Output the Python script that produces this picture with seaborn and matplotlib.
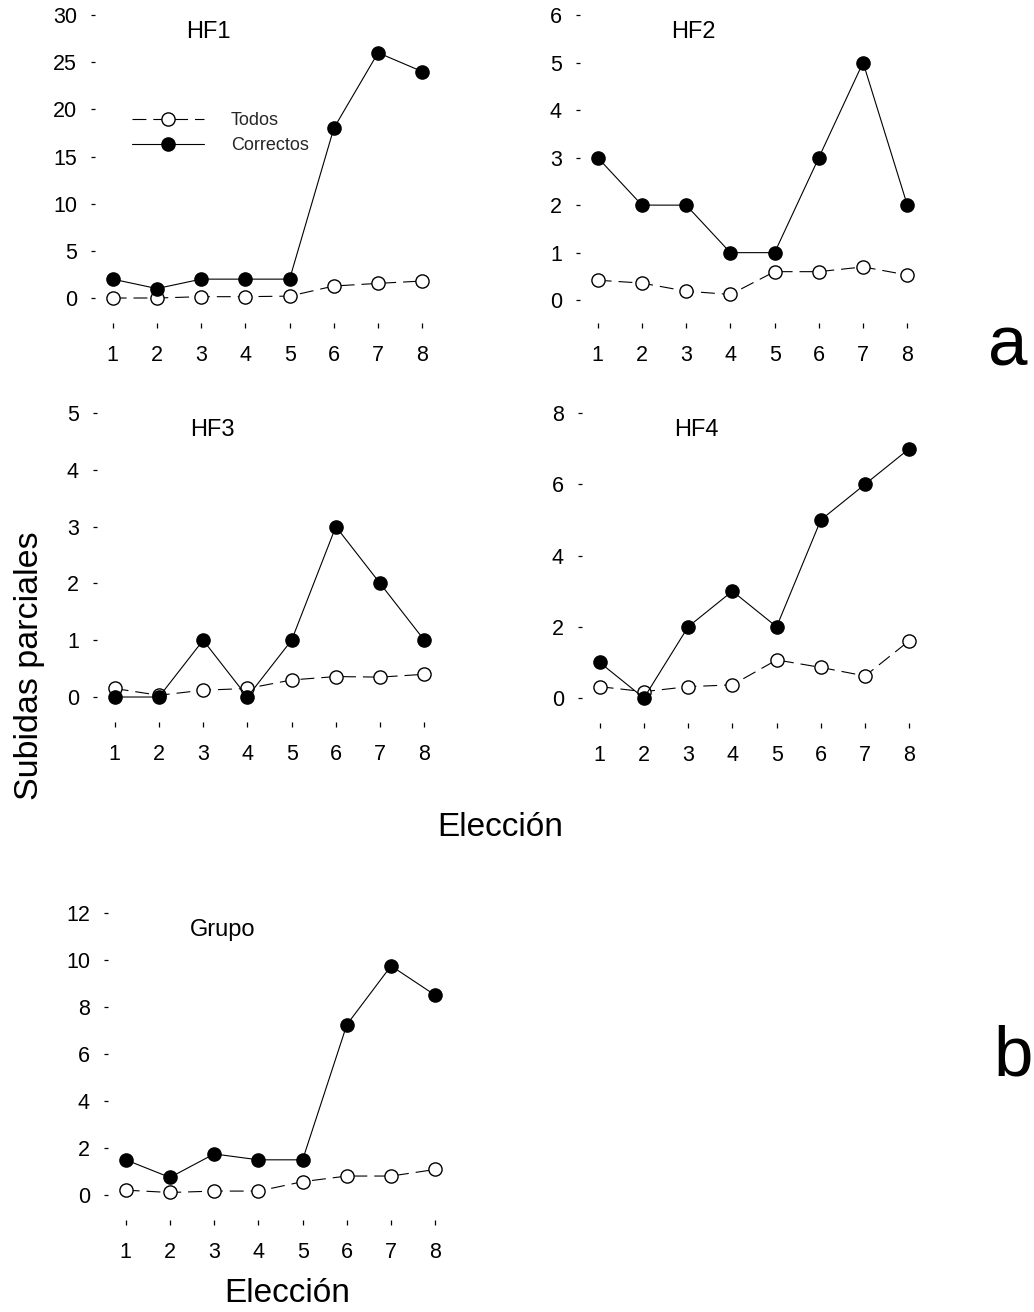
import matplotlib
matplotlib.use("Agg")
import matplotlib.pyplot as plt
import seaborn as sns
import pandas as pd

# Choice number (x axis)
elecciones = [1, 2, 3, 4, 5, 6, 7, 8]

# Partial rises per choice: all trials ("Todos") and correct trials ("Correctos")
hf1_todos = [0.0, 0.0, 0.14, 0.14, 0.2, 1.27, 1.55, 1.8]
hf1_correctos = [2, 1, 2, 2, 2, 18, 26, 24]

hf2_todos = [0.42, 0.36, 0.19, 0.12, 0.6, 0.6, 0.7, 0.53]
hf2_correctos = [3, 2, 2, 1, 1, 3, 5, 2]

hf3_todos = [0.15, 0.03, 0.12, 0.15, 0.3, 0.36, 0.35, 0.4]
hf3_correctos = [0, 0, 1, 0, 1, 3, 2, 1]

hf4_todos = [0.32, 0.18, 0.32, 0.37, 1.07, 0.86, 0.62, 1.61]
hf4_correctos = [1, 0, 2, 3, 2, 5, 6, 7]

grupo_todos = [0.21, 0.11, 0.17, 0.17, 0.57, 0.81, 0.81, 1.09]
grupo_correctos = [1.5, 0.75, 1.75, 1.5, 1.5, 7.25, 9.75, 8.5]

paneles = ["HF1", "HF2", "HF3", "HF4", "Grupo"]
y_ticks = {
    "HF1": [0, 5, 10, 15, 20, 25, 30],
    "HF2": [0, 1, 2, 3, 4, 5, 6],
    "HF3": [0, 1, 2, 3, 4, 5],
    "HF4": [0, 2, 4, 6, 8],
    "Grupo": [0, 2, 4, 6, 8, 10, 12],
}
series = {
    "HF1": (hf1_todos, hf1_correctos),
    "HF2": (hf2_todos, hf2_correctos),
    "HF3": (hf3_todos, hf3_correctos),
    "HF4": (hf4_todos, hf4_correctos),
    "Grupo": (grupo_todos, grupo_correctos),
}

sns.set_theme(style="white")
plt.rcParams["font.family"] = ["Liberation Sans", "DejaVu Sans"]
plt.rcParams["lines.scale_dashes"] = False

W, H = 1034, 1312
fig = plt.figure(figsize=(W / 100, H / 100), dpi=100)
fig.patch.set_facecolor("white")

# axes boxes in pixels: left, top, bottom ; y-limit bottoms
layout = {
    "HF1": (95, 15, 323, -2.65),
    "HF2": (580, 15, 323, -0.48),
    "HF3": (97, 413, 722, -0.44),
    "HF4": (582, 413, 723, -0.70),
    "Grupo": (108, 913, 1220, -1.06),
}
ax_w = 345

for name in paneles:
    left, top, bottom, ybot = layout[name]
    ax = fig.add_axes([left / W, (H - bottom) / H, ax_w / W, (bottom - top) / H])
    todos, correctos = series[name]
    df = pd.DataFrame({"Elección": elecciones, "Todos": todos, "Correctos": correctos})

    sns.lineplot(data=df, x="Elección", y="Todos", ax=ax, color="black",
                 linewidth=0.8, linestyle=(0, (10, 5)), marker="o", markersize=9.5,
                 markerfacecolor="white", markeredgecolor="black",
                 markeredgewidth=1.0, label="Todos", zorder=2)
    sns.lineplot(data=df, x="Elección", y="Correctos", ax=ax, color="black",
                 linewidth=0.8, marker="o", markersize=9.5,
                 markerfacecolor="black", markeredgecolor="black",
                 markeredgewidth=1.0, label="Correctos", zorder=3)

    yt = y_ticks[name]
    ax.set_xlim(0.6, 8.4)
    ax.set_ylim(ybot, yt[-1])
    ax.set_xticks(elecciones)
    ax.set_yticks(yt)
    ax.set_xlabel("")
    ax.set_ylabel("")
    for s in ax.spines.values():
        s.set_visible(False)
    ax.tick_params(axis="y", direction="out", length=3, width=0.9, pad=10,
                   labelsize=15.5, colors="black", left=True)
    ax.tick_params(axis="x", direction="out", length=3.5, width=0.9, pad=12,
                   labelsize=15.5, colors="black", bottom=True)
    ax.set_facecolor("white")
    ax.grid(False)

    title_x = {"HF1": 0.329, "HF2": 0.328, "HF3": 0.335, "HF4": 0.332, "Grupo": 0.332}[name]
    ax.text(title_x, 1 - 17 / (bottom - top), name, transform=ax.transAxes,
            ha="center", va="center", fontsize=17, color="black")

    if name == "HF1":
        ax.legend(loc="upper left", bbox_to_anchor=(0.106, 0.685), frameon=False,
                  fontsize=13, handlelength=4.0, handletextpad=1.5,
                  labelspacing=0.45, borderpad=0, borderaxespad=0)
    else:
        leg = ax.get_legend()
        if leg is not None:
            leg.remove()

fig.text(30 / W, 1 - 666 / H, "Subidas parciales", rotation=90, ha="center",
         va="center", fontsize=24.5, color="black")
fig.text(500 / W, 1 - 828 / H, "Elección", ha="center", va="center",
         fontsize=24, color="black")
fig.text(287 / W, 1 - 1293 / H, "Elección", ha="center", va="center",
         fontsize=24, color="black")
fig.text(1008 / W, 1 - 348 / H, "a", ha="center", va="center",
         fontsize=51, color="black")
fig.text(1013 / W, 1 - 1058 / H, "b", ha="center", va="center",
         fontsize=51, color="black")

fig.savefig("out.png", dpi=100, facecolor="white")
